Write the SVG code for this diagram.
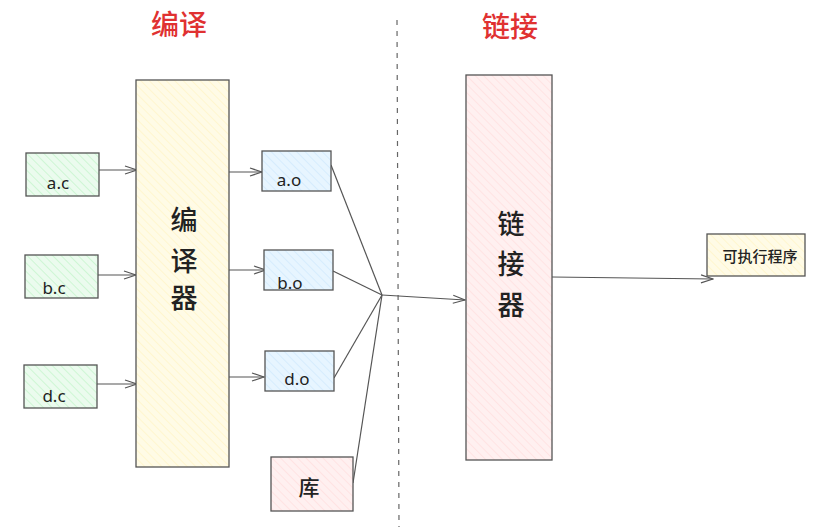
<svg xmlns="http://www.w3.org/2000/svg" width="822" height="531" viewBox="0 0 822 531">
<style>
.box{stroke:#555;stroke-width:1.3}
.lbl{font-family:"Noto Sans","Liberation Sans","Noto Sans CJK SC",sans-serif;fill:#222;text-anchor:middle}
.cjk{font-family:"Noto Sans CJK SC",sans-serif;fill:#222;text-anchor:middle;font-weight:500}
.title{font-family:"Noto Sans CJK SC",sans-serif;fill:#e03131;text-anchor:middle;font-size:28px;font-weight:500}
.conn{stroke:#555;stroke-width:1.2;fill:none}
</style>
<defs>
<pattern id="pg" width="6" height="6" patternUnits="userSpaceOnUse" patternTransform="rotate(-45)"><rect width="6" height="6" fill="#ebfbee"/><line x1="0" y1="0" x2="0" y2="6" stroke="#b2f2bb" stroke-width="1"/></pattern>
<pattern id="py" width="6" height="6" patternUnits="userSpaceOnUse" patternTransform="rotate(-45)"><rect width="6" height="6" fill="#fffbe6"/><line x1="0" y1="0" x2="0" y2="6" stroke="#fff1b8" stroke-width="1"/></pattern>
<pattern id="pb" width="6" height="6" patternUnits="userSpaceOnUse" patternTransform="rotate(-45)"><rect width="6" height="6" fill="#e7f5ff"/><line x1="0" y1="0" x2="0" y2="6" stroke="#c5e3fb" stroke-width="1"/></pattern>
<pattern id="pr" width="6" height="6" patternUnits="userSpaceOnUse" patternTransform="rotate(-45)"><rect width="6" height="6" fill="#fff0f0"/><line x1="0" y1="0" x2="0" y2="6" stroke="#ffd6d6" stroke-width="1"/></pattern>
<marker id="arr" markerWidth="14" markerHeight="10" refX="13" refY="5" orient="auto" markerUnits="userSpaceOnUse"><path d="M1,1 L13,5 L1,9" fill="none" stroke="#555" stroke-width="1.2"/></marker>
</defs>
<rect width="822" height="531" fill="#fff"/>
<text class="title" x="179" y="35">编译</text>
<text class="title" x="510" y="37">链接</text>
<line x1="397" y1="20" x2="399" y2="527" stroke="#666" stroke-width="1.2" stroke-dasharray="5,6"/>
<g id="connectors">
<line class="conn" x1="98" y1="170" x2="137" y2="170" marker-end="url(#arr)"/>
<line class="conn" x1="97" y1="275" x2="136" y2="275" marker-end="url(#arr)"/>
<line class="conn" x1="96" y1="384" x2="137" y2="384" marker-end="url(#arr)"/>
<line class="conn" x1="222" y1="172" x2="262" y2="172" marker-end="url(#arr)"/>
<line class="conn" x1="226" y1="270" x2="266" y2="270" marker-end="url(#arr)"/>
<line class="conn" x1="224" y1="377" x2="264" y2="377" marker-end="url(#arr)"/>
<line class="conn" x1="331" y1="165" x2="382" y2="295"/>
<line class="conn" x1="333" y1="271" x2="382" y2="295"/>
<line class="conn" x1="334" y1="378" x2="382" y2="295"/>
<line class="conn" x1="353" y1="483" x2="382" y2="295"/>
<line class="conn" x1="382" y1="295" x2="465" y2="300" marker-end="url(#arr)"/>
<line class="conn" x1="552" y1="277" x2="713" y2="279" marker-end="url(#arr)"/>
</g>
<g id="ac"><rect class="box" x="26" y="153" width="73" height="43" fill="url(#pg)"/><text class="lbl" x="58" y="189" font-size="17">a.c</text></g>
<g id="bc"><rect class="box" x="25" y="255" width="73" height="43" fill="url(#pg)"/><text class="lbl" x="54" y="294" font-size="17">b.c</text></g>
<g id="dc"><rect class="box" x="24" y="365" width="73" height="43" fill="url(#pg)"/><text class="lbl" x="54" y="402" font-size="17">d.c</text></g>
<g id="compiler"><rect class="box" x="136" y="80" width="93" height="387" fill="url(#py)"/>
<text class="cjk" x="184" y="230" font-size="27">编</text><text class="cjk" x="184" y="271" font-size="27">译</text><text class="cjk" x="184" y="308" font-size="27">器</text></g>
<g id="ao"><rect class="box" x="262" y="151" width="69" height="40" fill="url(#pb)"/><text class="lbl" x="289" y="186" font-size="17">a.o</text></g>
<g id="bo"><rect class="box" x="264" y="250" width="69" height="40" fill="url(#pb)"/><text class="lbl" x="290" y="289" font-size="17">b.o</text></g>
<g id="do"><rect class="box" x="265" y="351" width="69" height="40" fill="url(#pb)"/><text class="lbl" x="297" y="385" font-size="17">d.o</text></g>
<g id="lib"><rect class="box" x="271" y="457" width="82" height="54" fill="url(#pr)"/><text class="cjk" x="309" y="495" font-size="21">库</text></g>
<g id="linker"><rect class="box" x="466" y="75" width="86" height="385" fill="url(#pr)"/>
<text class="cjk" x="511" y="234" font-size="27">链</text><text class="cjk" x="511" y="274" font-size="27">接</text><text class="cjk" x="511" y="315" font-size="27">器</text></g>
<g id="exe"><rect class="box" x="707" y="234" width="98" height="42" fill="url(#py)"/><text class="cjk" x="760" y="262" font-size="15">可执行程序</text></g>
</svg>
